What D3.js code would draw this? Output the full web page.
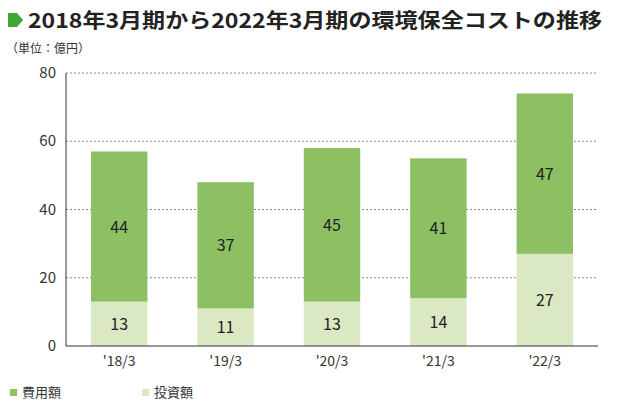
<!DOCTYPE html>
<html><head><meta charset="utf-8">
<script src="https://cdn.jsdelivr.net/npm/d3@7"></script>
<style>body{margin:0;background:#fff;font-family:"Noto Sans CJK JP","Noto Sans",sans-serif}</style>
</head><body><svg id="c" width="630" height="410"></svg>
<script>
const categories=["'18/3","'19/3","'20/3","'21/3","'22/3"];
const expense=[44,37,45,41,47];
const investment=[13,11,13,14,27];
const yTicks=[0,20,40,60,80];
const svg=d3.select("#c");
const x=d3.scaleBand().domain(categories).range([66,598]).paddingInner(0.47).paddingOuter(0.235);
const y=d3.scaleLinear().domain([0,80]).range([346,73]);
const cG="#8cc063",cL="#dae8c3";
svg.append("path").attr("d","M8,13 H17 L23,20 L17,27 H8 Z").attr("fill","#3aa935");
svg.append("text").attr("x",28).attr("y",28).attr("font-size",20).attr("font-weight","bold").attr("fill","#222")
  .attr("textLength",574).attr("lengthAdjust","spacingAndGlyphs").text("2018年3月期から2022年3月期の環境保全コストの推移");
svg.append("text").attr("x",6).attr("y",53).attr("font-size",12).attr("fill","#333").text("（単位：億円）");
yTicks.forEach(t=>{
  if(t>0) svg.append("line").attr("x1",66).attr("x2",598).attr("y1",y(t)).attr("y2",y(t)).attr("stroke","#888").attr("stroke-dasharray","2,2");
  svg.append("text").attr("x",56).attr("y",y(t)+5).attr("text-anchor","end").attr("font-size",15).attr("fill","#333").text(t);
});
svg.append("line").attr("x1",66).attr("x2",66).attr("y1",73).attr("y2",346).attr("stroke","#333");
categories.forEach((c,i)=>{
  const bx=x(c),w=x.bandwidth();
  svg.append("rect").attr("x",bx).attr("width",w).attr("y",y(investment[i])).attr("height",y(0)-y(investment[i])).attr("fill",cL);
  svg.append("rect").attr("x",bx).attr("width",w).attr("y",y(investment[i]+expense[i])).attr("height",y(0)-y(expense[i])).attr("fill",cG);
  svg.append("text").attr("x",bx+w/2).attr("y",y(investment[i]/2)+6).attr("text-anchor","middle").attr("font-size",16).attr("fill","#222").text(investment[i]);
  svg.append("text").attr("x",bx+w/2).attr("y",y(investment[i]+expense[i]/2)+6).attr("text-anchor","middle").attr("font-size",16).attr("fill","#222").text(expense[i]);
  svg.append("text").attr("x",bx+w/2).attr("y",366).attr("text-anchor","middle").attr("font-size",14).attr("fill","#333").text(c);
});
svg.append("line").attr("x1",66).attr("x2",598).attr("y1",346).attr("y2",346).attr("stroke","#333");
[["費用額",cG,10],["投資額",cL,142]].forEach(([t,col,lx])=>{
  svg.append("rect").attr("x",lx).attr("y",389).attr("width",7).attr("height",7).attr("fill",col);
  svg.append("text").attr("x",lx+12).attr("y",397).attr("font-size",13).attr("fill","#333").text(t);
});
</script></body></html>
